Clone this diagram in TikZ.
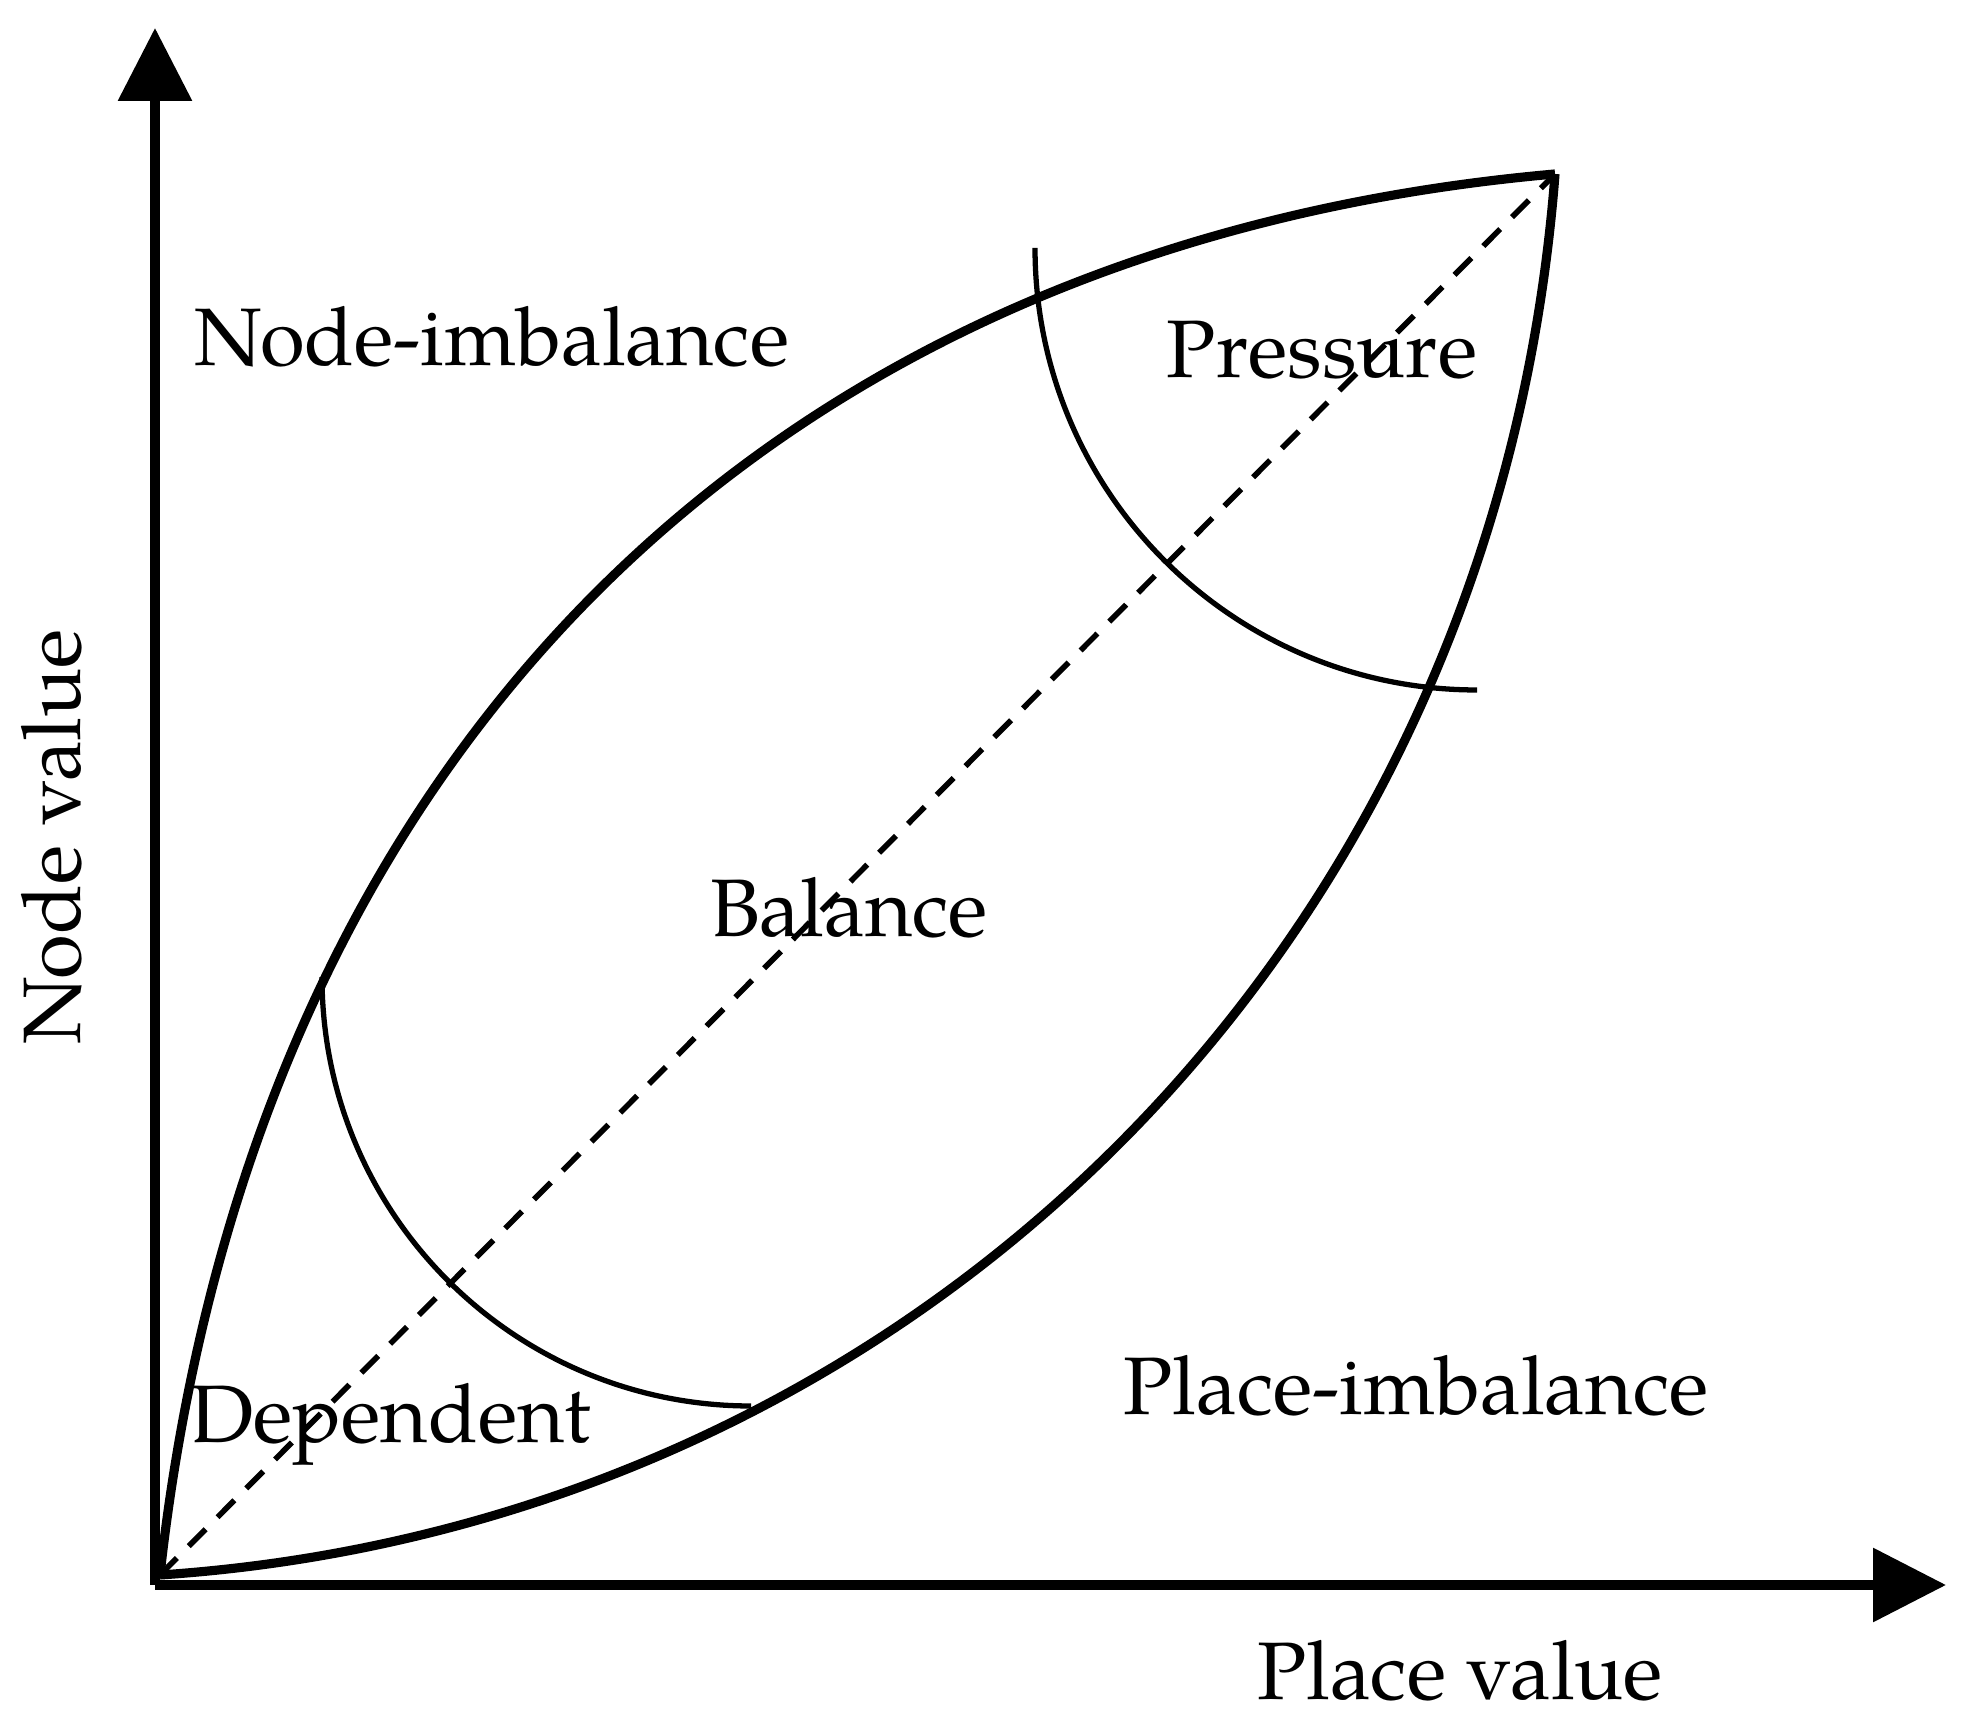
\documentclass[tikz,border=0pt]{standalone}
\usepackage{fontspec}
\setmainfont{TeX Gyre Pagella}
\usepackage{tikz}
\usetikzlibrary{arrows.meta}
\usetikzlibrary{positioning}

\begin{document}
\begin{tikzpicture}[
        axis/.style={line width=2.8pt,-{Triangle[length=7.3mm,width=7.2mm]}},
        leaf/.style={line width=2.6pt},
        zone/.style={line width=1.5pt},
        diag/.style={line width=1.6pt,dash pattern=on 6.8pt off 4.8pt},
        lbl/.style={anchor=base,inner sep=0pt,font=\fontsize{23.2}{28}\selectfont}]
        \useasboundingbox (0,0) rectangle (19.64,17.27);

        \coordinate (O) at (1.55,1.42);
        \coordinate (xend) at (19.46,1.42);
        \coordinate (yend) at (1.55,16.99);
        \coordinate (start) at (1.60,1.52);
        \coordinate (tip) at (15.55,15.53);

        % axes
        \draw[axis] (O) -- (xend);
        \draw[axis] (O) -- (yend);

        % leaf and diagonal
        \draw[leaf] (start) .. controls (2.50,9.62) and (7.55,14.82) .. (tip);
        \draw[leaf] (start) .. controls (9.05,2.02) and (14.95,7.72) .. (tip);
        \draw[diag] (start) -- (tip);

        % zone borders
        \draw[zone] (3.22,7.50) arc (180:270:4.29);
        \draw[zone] (10.35,14.79) arc (180:270:4.42);

        \node[lbl] (nodeimb) at (4.92,13.61) {Node-imbalance};
        \node[lbl] (pressure) at (13.22,13.49) {Pressure};
        \node[lbl] (balance) at (8.49,7.90) {Balance};
        \node[lbl] (dependent) at (3.91,2.84) {Dependent};
        \node[lbl] (placeimb) at (14.16,3.12) {Place-imbalance};
        \node[lbl] (xlabel) at (14.60,0.28) {Place value};
        \node[lbl,rotate=90] (ylabel) at (0.80,8.90) {Node value};
\end{tikzpicture}
\end{document}
